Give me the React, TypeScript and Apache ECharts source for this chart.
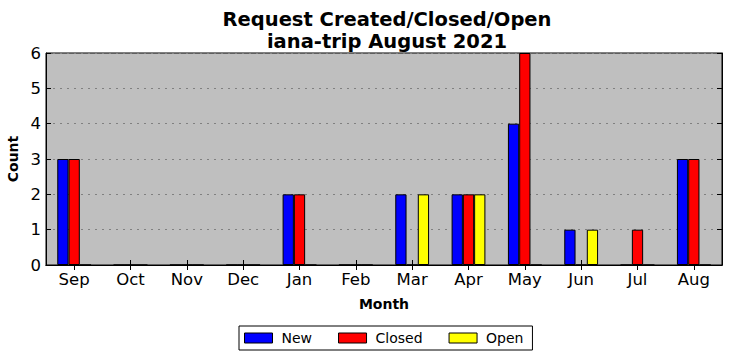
import React, { useEffect, useRef } from "react";
import * as echarts from "echarts";

const months = ["Sep", "Oct", "Nov", "Dec", "Jan", "Feb", "Mar", "Apr", "May", "Jun", "Jul", "Aug"];
const newCounts = [3, 0, 0, 0, 2, 0, 2, 2, 4, 1, 0, 3];
const closedCounts = [3, 0, 0, 0, 2, 0, 0, 2, 6, 0, 1, 3];
const openCounts = [0, 0, 0, 0, 0, 0, 2, 2, 0, 1, 0, 0];
const yTicks = [0, 1, 2, 3, 4, 5, 6];

const FONT = "DejaVu Sans";

export default function App() {
  const ref = useRef<HTMLDivElement>(null);
  useEffect(() => {
    if (!ref.current) return;
    const chart = echarts.init(ref.current, undefined, { renderer: "svg" });
    const barSeries = (name: string, data: number[], color: string) => ({
      name,
      type: "bar",
      data,
      barWidth: "20%",
      barGap: "0%",
      itemStyle: { color, borderColor: "#000", borderWidth: 1 },
      xAxisIndex: 0,
      yAxisIndex: 0,
    });
    chart.setOption({
      animation: false,
      textStyle: { fontFamily: FONT },
      title: {
        text: "Request Created/Closed/Open\niana-trip August 2021",
        left: 382,
        textAlign: "center",
        top: 3,
        textStyle: { fontFamily: FONT, fontSize: 19.5, fontWeight: "bold", color: "#000", lineHeight: 22 },
      },
      grid: {
        left: 46,
        right: 10,
        top: 53,
        bottom: 96,
        show: true,
        backgroundColor: "#bfbfbf",
        borderColor: "#000",
        borderWidth: 1,
        outerBoundsMode: "none",
        containLabel: false,
      },
      legend: {
        data: ["New", "Closed", "Open"],
        left: 239,
        top: 326,
        icon: "rect",
        itemWidth: 28,
        itemHeight: 10,
        itemGap: 26,
        padding: [5, 9, 5, 5],
        borderColor: "#000",
        borderWidth: 1,
        borderRadius: 0,
        textStyle: { fontFamily: FONT, fontSize: 14, color: "#000", padding: [0, 0, 0, 4] },
        itemStyle: { borderColor: "#000", borderWidth: 1 },
      },
      xAxis: [
        {
          type: "category",
          data: months,
          position: "bottom",
          name: "Month",
          nameLocation: "middle",
          nameGap: 32,
          nameTextStyle: { fontFamily: FONT, fontSize: 14, fontWeight: "bold", color: "#000" },
          axisLine: { show: true, lineStyle: { color: "#000" } },
          axisTick: { show: true, inside: true, length: 5, alignWithLabel: true, lineStyle: { color: "#000" } },
          axisLabel: { fontFamily: FONT, fontSize: 16.5, color: "#000", margin: 6 },
          splitLine: { show: false },
        },
        {
          type: "category",
          data: months,
          position: "top",
          axisLine: { show: true, lineStyle: { color: "#000" } },
          axisTick: { show: true, inside: true, length: 5, alignWithLabel: true, lineStyle: { color: "#000" } },
          axisLabel: { show: false },
          splitLine: { show: false },
        },
      ],
      yAxis: [
        {
          type: "value",
          min: 0,
          max: 6,
          interval: 1,
          name: "Count",
          nameLocation: "middle",
          nameGap: 20,
          nameTextStyle: { fontFamily: FONT, fontSize: 14, fontWeight: "bold", color: "#000" },
          axisLine: { show: true, lineStyle: { color: "#000" } },
          axisTick: { show: true, inside: true, length: 5, lineStyle: { color: "#000" } },
          axisLabel: {
            fontFamily: FONT,
            fontSize: 16.5,
            color: "#000",
            margin: 5,
            formatter: (v: number) => (yTicks.includes(v) ? String(v) : ""),
          },
          splitLine: { show: true, lineStyle: { color: "#808080", type: [2, 5], width: 1 } },
        },
        {
          type: "value",
          min: 0,
          max: 6,
          interval: 1,
          position: "right",
          axisLine: { show: true, lineStyle: { color: "#000" } },
          axisTick: { show: true, inside: true, length: 5, lineStyle: { color: "#000" } },
          axisLabel: { show: false },
          splitLine: { show: false },
        },
      ],
      series: [
        barSeries("New", newCounts, "#0000ff"),
        barSeries("Closed", closedCounts, "#ff0000"),
        barSeries("Open", openCounts, "#ffff00"),
      ],
    });
    return () => chart.dispose();
  }, []);
  return <div ref={ref} style={{ width: 732, height: 361, position: "absolute", left: 0, top: 0 }} />;
}
